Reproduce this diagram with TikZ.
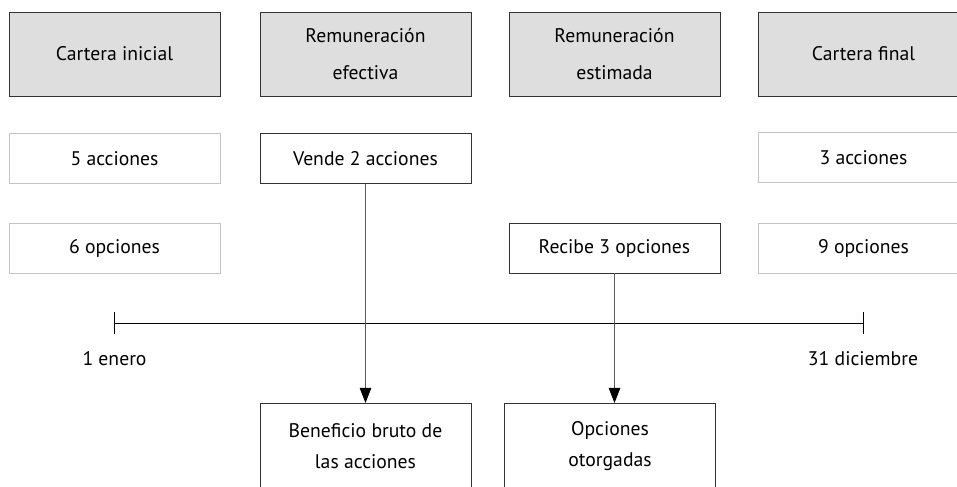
\documentclass[tikz,border=0pt]{standalone}
\usepackage{fontspec}
\setmainfont{PT Sans}
\usetikzlibrary{arrows.meta,positioning,calc}
\definecolor{gDark}{HTML}{333333}
\definecolor{gMid}{HTML}{5C5C5C}
\definecolor{gLight}{HTML}{C4C4C4}
\definecolor{gFill}{HTML}{DEDEDE}
\tikzset{
  setT/.style={
    font=\fontsize{14}{16}\selectfont,
    >={Triangle[length=3.8mm, width=2.9mm, color=black]},
    line width=0.5pt,
  },
  headBox/.style={
    draw=gDark, fill=gFill, line width=0.6pt, align=center,
    minimum width=5.275cm, minimum height=2.1cm, inner sep=0pt,
    font=\fontsize{14}{26.2}\selectfont,
  },
  stockBox/.style={
    draw=gLight, fill=white, line width=0.6pt, align=center,
    minimum width=5.275cm, minimum height=1.25cm, inner sep=0pt,
  },
  eventBox/.style={stockBox, draw=gDark},
  resultBox/.style={
    draw=gDark, fill=white, line width=0.6pt, align=center,
    minimum width=5.275cm, minimum height=2.125cm, inner sep=0pt,
    font=\fontsize{14}{22}\selectfont,
  },
  flow/.style={->, gMid, line width=0.6pt},
  axisLine/.style={black, line width=0.5pt},
  dateLabel/.style={inner sep=1pt},
}

\begin{document}
\begin{tikzpicture}[setT, x=0.025cm, y=-0.025cm]

\useasboundingbox (0,0) rectangle (957,486);

% ============================================================
% Column centres and row heights (pixel grid of the layout).
% ============================================================
\def\colA{114.5}
\def\colB{365.5}
\def\colC{614.5}
\def\colD{863.5}
\def\rowHead{54}
\def\rowStock{158.5}
\def\rowOpt{248}
\def\axisY{323}

% Header row
\node[headBox] (hIni) at (\colA, \rowHead) {Cartera inicial};
\node[headBox] (hEfe) at (\colB, \rowHead) {Remuneración\\efectiva};
\node[headBox] (hEst) at (\colC, \rowHead) {Remuneración\\estimada};
\node[headBox] (hFin) at (\colD, \rowHead) {Cartera final};

% Shares row
\node[stockBox] (accIni) at (\colA, \rowStock) {5 acciones};
\node[eventBox] (vende) at (\colB, \rowStock) {Vende 2 acciones};
\node[stockBox] (accFin) at (\colD, \rowStock-1) {3 acciones};

% Options row
\node[stockBox] (optIni) at (\colA, \rowOpt) {6 opciones};
\node[eventBox] (recibe) at (\colC, \rowOpt) {Recibe 3 opciones};
\node[stockBox] (optFin) at (\colD, \rowOpt) {9 opciones};

% ============================================================
% Year axis with end ticks.
% ============================================================
\coordinate (jan) at (\colA, \axisY);
\coordinate (dec) at (\colD-0.5, \axisY);
\draw[axisLine] (jan) -- (dec);
\draw[axisLine] ($(jan)+(0,-11)$) -- ($(jan)+(0,11)$);
\draw[axisLine] ($(dec)+(0,-11)$) -- ($(dec)+(0,11)$);
\node[dateLabel] (janLbl) at (\colA, 359) {1 enero};
\node[dateLabel] (decLbl) at (\colD-0.5, 359) {31 diciembre};

% ============================================================
% Results below the axis (boxes run past the lower edge).
% ============================================================
\node[resultBox, anchor=north] (benef) at (\colB, 403)
  {Beneficio bruto de\\las acciones};
\node[resultBox, anchor=north] (otorg) at (610, 403)
  {Opciones\\otorgadas};

\draw[flow] (vende.south) -- (benef.north);
\draw[flow] (recibe.south) -- (recibe.south |- otorg.north);

\end{tikzpicture}
\end{document}
